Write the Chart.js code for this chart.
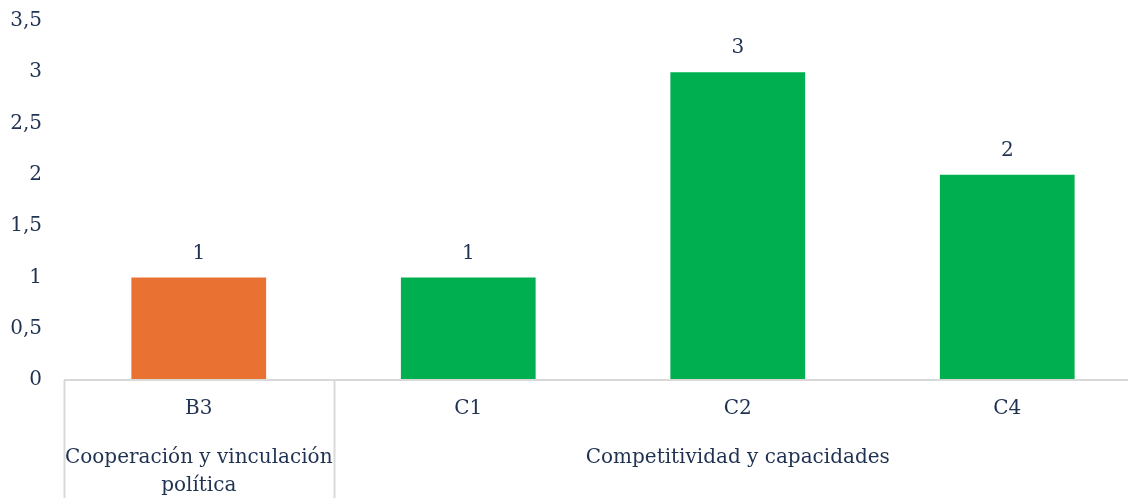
<!DOCTYPE html>
<html>
<head>
<meta charset="utf-8">
<script src="https://cdn.jsdelivr.net/npm/chart.js@4"></script>
<style>
  html, body { margin: 0; padding: 0; background: #fff; overflow: hidden; }
  #wrap { width: 1146px; height: 498px; }
</style>
</head>
<body>
<div id="wrap"><canvas id="chart"></canvas></div>
<script>
// chart data
const categories = ['B3', 'C1', 'C2', 'C4'];
const values = [1, 1, 3, 2];
const barColors = ['#E97132', '#00B050', '#00B050', '#00B050'];
const groupNames = [['Cooperación y vinculación', 'política'], ['Competitividad y capacidades']];
const groupSizes = [1, 3];
const yTicks = [0, 0.5, 1, 1.5, 2, 2.5, 3, 3.5];

const textColor = '#1f3251';
const fontFamily = "'DejaVu Serif', serif";
const fontSize = 20;
const lineColor = '#d9d9d9';

// value labels above bars
const valueLabels = {
    id: 'valueLabels',
    afterDatasetsDraw(chart) {
        const ctx = chart.ctx;
        const meta = chart.getDatasetMeta(0);
        ctx.save();
        ctx.fillStyle = textColor;
        ctx.font = fontSize + 'px ' + fontFamily;
        ctx.textAlign = 'center';
        ctx.textBaseline = 'middle';
        meta.data.forEach(function (bar, i) {
            ctx.fillText(String(values[i]), bar.x, bar.y - 24);
        });
        ctx.restore();
    }
};

// two-level category axis
const groupAxis = {
    id: 'groupAxis',
    afterDraw(chart) {
        const ctx = chart.ctx;
        const x = chart.scales.x;
        const area = chart.chartArea;
        const half = (x.getPixelForValue(1) - x.getPixelForValue(0)) / 2;
        const bottom = chart.height;
        ctx.save();
        ctx.strokeStyle = lineColor;
        ctx.lineWidth = 2;
        ctx.beginPath();
        ctx.moveTo(area.left, area.bottom);
        ctx.lineTo(chart.width, area.bottom);
        ctx.stroke();

        ctx.fillStyle = textColor;
        ctx.font = fontSize + 'px ' + fontFamily;
        ctx.textAlign = 'center';
        ctx.textBaseline = 'middle';
        categories.forEach(function (c, i) {
            ctx.fillText(c, x.getPixelForValue(i), area.bottom + 29);
        });

        let start = 0;
        groupNames.forEach(function (lines, g) {
            const end = start + groupSizes[g] - 1;
            const left = x.getPixelForValue(start) - half;
            const right = x.getPixelForValue(end) + half;
            ctx.beginPath();
            ctx.moveTo(Math.round(left) + 0.5, area.bottom);
            ctx.lineTo(Math.round(left) + 0.5, bottom);
            ctx.stroke();
            const cx = (left + right) / 2;
            lines.forEach(function (t, k) {
                ctx.fillText(t, cx, area.bottom + 78 + k * 28);
            });
            start = end + 1;
        });
        ctx.restore();
    }
};

const ctx = document.getElementById('chart').getContext('2d');
new Chart(ctx, {
    type: 'bar',
    data: {
        labels: categories,
        datasets: [{
            data: values,
            backgroundColor: barColors,
            categoryPercentage: 1,
            barPercentage: 0.5
        }]
    },
    options: {
        responsive: true,
        maintainAspectRatio: false,
        animation: false,
        layout: { padding: { top: 21, right: 4, left: 0, bottom: 0 } },
        plugins: {
            legend: { display: false },
            tooltip: { enabled: false }
        },
        scales: {
            x: {
                grid: { display: false },
                border: { display: false },
                ticks: { display: false },
                afterFit(scale) { scale.height = 118; }
            },
            y: {
                min: 0,
                max: 3.5,
                afterBuildTicks(scale) {
                    scale.ticks = yTicks.map(function (v) { return { value: v }; });
                },
                grid: { display: false },
                border: { display: false },
                ticks: {
                    color: textColor,
                    font: { family: fontFamily, size: fontSize },
                    padding: 14,
                    callback: function (v) { return String(v).replace('.', ','); }
                },
                afterFit(scale) {
                    scale.width = 64;
                    scale.paddingTop = 0;
                    scale.paddingBottom = 0;
                }
            }
        }
    },
    plugins: [valueLabels, groupAxis]
});
</script>
</body>
</html>
